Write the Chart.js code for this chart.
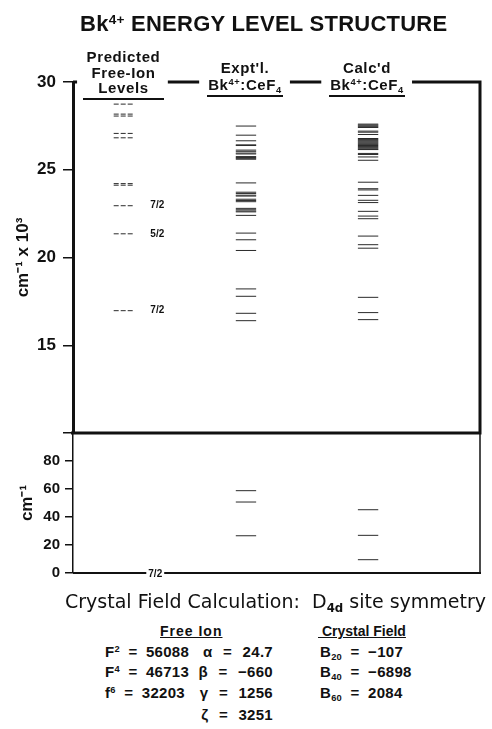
<!DOCTYPE html>
<html>
<head>
<meta charset="utf-8">
<title>Bk4+ Energy Level Structure</title>
<script src="https://cdn.jsdelivr.net/npm/chart.js@4.4.0/dist/chart.umd.min.js"></script>
<style>
    html, body { margin: 0; padding: 0; background: #fff; }
    body {
        width: 492px; height: 729px; position: relative; overflow: hidden;
        font-family: "Liberation Sans", Arial, sans-serif; color: #111;
    }
    canvas { position: absolute; left: 0; }
    #upper { top: 0; }
    #lower { top: 420px; }
    .t { position: absolute; white-space: pre; font-weight: bold; }
    .hd {
        position: absolute; text-align: center; font-size: 15px; font-weight: bold;
        letter-spacing: 0.6px; border-bottom: 2px solid #111; padding-bottom: 2px;
    }
    sup { font-size: 0.62em; vertical-align: 0.5em; line-height: 0; }
    sub { font-size: 0.62em; vertical-align: -0.35em; line-height: 0; }
    .row { font-size: 15px; line-height: 18px; word-spacing: 4px; letter-spacing: 0.3px; }
    .mid { right: 219px; text-align: right; word-spacing: 6px; }
</style>
</head>
<body>
<canvas id="upper" width="492" height="436"></canvas>
<canvas id="lower" width="492" height="165"></canvas>

<div class="t" style="left:80px; top:11px; font-size:22px; line-height:26px; letter-spacing:0.25px;">Bk<sup>4+</sup> ENERGY LEVEL STRUCTURE</div>

<div class="hd" style="left:83px; top:49px; width:81px; line-height:15.5px;">Predicted<br>Free-Ion<br>Levels</div>
<div class="hd" style="left:207px; top:59px; width:76px; line-height:17px;">Expt'l.<br>Bk<sup>4+</sup>:CeF<sub>4</sub></div>
<div class="hd" style="left:329px; top:59px; width:76px; line-height:17px;">Calc'd<br>Bk<sup>4+</sup>:CeF<sub>4</sub></div>

<div class="t" style="left:65px; top:589px; font-family:'DejaVu Sans', sans-serif; font-size:19px; line-height:24px; font-weight:normal;">Crystal Field Calculation:  D<sub style="font-weight:bold">4d</sub> site symmetry</div>
<div class="t" style="left:160px; top:623px; font-size:14px; letter-spacing:1px; text-decoration:underline;">Free Ion</div>
<div class="t" style="left:318px; top:623px; font-size:14px; text-decoration:underline;"> Crystal Field</div>

<div class="t row" style="left:105px; top:643px;">F<sup>2</sup> = 56088</div>
<div class="t row" style="left:105px; top:663px;">F<sup>4</sup> = 46713</div>
<div class="t row" style="left:105px; top:684px;">f<sup>6</sup> = 32203</div>
<div class="t row mid" style="top:643px;">α = 24.7</div>
<div class="t row mid" style="top:663px;">β = −660</div>
<div class="t row mid" style="top:684px;">γ = 1256</div>
<div class="t row mid" style="top:706px;">ζ = 3251</div>
<div class="t row" style="left:320px; top:643px;">B<sub>20</sub> = −107</div>
<div class="t row" style="left:320px; top:663px;">B<sub>40</sub> = −6898</div>
<div class="t row" style="left:320px; top:684px;">B<sub>60</sub> = 2084</div>

<script>
// 能级数据 (上半部分单位: 10^3 cm-1)
const predictedLevels = [28.74, 28.17, 28.06, 27.07, 26.82, 24.21, 24.12, 22.95, 21.35, 16.97];
const exptLevels = [27.49, 26.97, 26.65, 26.42, 26.38, 26.12, 26.05, 25.95, 25.9, 25.75, 25.7, 25.65, 25.6,
    24.25, 23.72, 23.65, 23.55, 23.5, 23.32, 23.25, 23.18, 22.8, 22.72, 22.65, 22.6, 22.4,
    21.39, 21.01, 20.4, 18.21, 17.79, 16.82, 16.4];
const calcLevels = [27.6, 27.55, 27.5, 27.45, 27.41, 27.2, 27.14, 27.01,
    26.78, 26.73, 26.68, 26.63, 26.58, 26.53, 26.48, 26.43, 26.38, 26.33, 26.28, 26.23, 26.18, 26.15,
    25.93, 25.87, 25.73, 25.54, 24.29, 23.92, 23.85, 23.54, 23.26, 23.13, 22.63, 22.36, 22.21,
    21.22, 20.73, 20.53, 17.73, 16.86, 16.46];

// J 标注
const labelledLevels = [22.95, 21.35, 16.97];
const labelledJ = ['7/2', '5/2', '7/2'];

// 基态劈裂 (下半部分单位: cm-1)
const predictedLow = [0];
const exptLow = [58.8, 50.7, 26.6, 0];
const calcLow = [45.2, 26.9, 9.5, 0];
const groundJ = '7/2';

// 刻度
const upperTicks = [15, 20, 25, 30];
const lowerTicks = [0, 20, 40, 60, 80];

(function() {
    Chart.defaults.font.family = '"Liberation Sans", Arial, sans-serif';
    Chart.defaults.color = '#111';

    // 每列在 x 轴 (0..10) 上的起点, 线长 0.5
    const colStart = [1.0, 4.0, 7.0];
    const colWidth = 0.5;
    const levelColor = '#2a2a2a';

    function segments(levels, x0) {
        const pts = [];
        levels.forEach(e => {
            pts.push({x: x0, y: e}, {x: x0 + colWidth, y: e}, {x: x0 + colWidth, y: null});
        });
        return pts;
    }

    function levelSet(levels, col, dash) {
        return {
            data: segments(levels, colStart[col]),
            borderColor: levelColor,
            borderWidth: 1,
            borderDash: dash || [],
            pointRadius: 0,
            spanGaps: false,
            tension: 0
        };
    }

    // 固定轴宽, 去掉刻度标签带来的额外上下留白
    function fixAxis(s) {
        s.width = 73;
        s.paddingTop = 0;
        s.paddingBottom = 0;
    }

    // 上框: 顶边在列标题处断开
    const upperFrame = {
        id: 'upperFrame',
        afterDraw(chart) {
            const {ctx, chartArea: a, scales: {x, y}} = chart;
            ctx.save();
            ctx.strokeStyle = '#111';
            ctx.lineWidth = 3;
            ctx.beginPath();
            let from = a.left;
            colStart.forEach(c => {
                const mid = c + colWidth / 2;
                ctx.moveTo(from, a.top);
                ctx.lineTo(x.getPixelForValue(mid - 1.15), a.top);
                from = x.getPixelForValue(mid + 1.08);
            });
            ctx.moveTo(from, a.top);
            ctx.lineTo(a.right, a.top);
            ctx.lineTo(a.right, a.bottom);
            ctx.lineTo(a.left - 2, a.bottom);
            ctx.stroke();

            // J 标注
            ctx.font = 'bold 10px "Liberation Sans", Arial, sans-serif';
            ctx.fillStyle = '#111';
            ctx.textBaseline = 'middle';
            labelledLevels.forEach((e, i) => {
                ctx.fillText(labelledJ[i], x.getPixelForValue(colStart[0] + colWidth + 0.4), y.getPixelForValue(e));
            });
            ctx.restore();
        }
    };

    const lowerFrame = {
        id: 'lowerFrame',
        afterDraw(chart) {
            const {ctx, chartArea: a, scales: {x, y}} = chart;
            ctx.save();
            ctx.strokeStyle = '#111';
            ctx.lineWidth = 1.5;
            ctx.beginPath();
            ctx.moveTo(a.right, a.top);
            ctx.lineTo(a.right, a.bottom);
            ctx.stroke();
            ctx.lineWidth = 2;
            ctx.beginPath();
            ctx.moveTo(a.left, a.bottom);
            ctx.lineTo(a.right + 1, a.bottom);
            ctx.stroke();

            // 基态 J 标注 (白底)
            ctx.font = 'bold 10px "Liberation Sans", Arial, sans-serif';
            const tx = x.getPixelForValue(colStart[0] + colWidth + 0.35);
            const ty = y.getPixelForValue(predictedLow[0]);
            const w = ctx.measureText(groundJ).width;
            ctx.fillStyle = '#fff';
            ctx.fillRect(tx - 2, ty - 5, w + 4, 10);
            ctx.fillStyle = '#111';
            ctx.textBaseline = 'middle';
            ctx.fillText(groundJ, tx, ty + 1);
            ctx.restore();
        }
    };

    const xScale = {type: 'linear', min: 0, max: 10, display: false};

    new Chart(document.getElementById('upper'), {
        type: 'line',
        data: {
            datasets: [
                levelSet(predictedLevels, 0, [5, 2]),
                levelSet(exptLevels, 1),
                levelSet(calcLevels, 2)
            ]
        },
        options: {
            responsive: false,
            animation: false,
            layout: {padding: {left: 0, right: 12, top: 82, bottom: 3}},
            scales: {
                x: xScale,
                y: {
                    min: 10,
                    max: 30,
                    afterFit: fixAxis,
                    afterBuildTicks: s => { s.ticks = [10].concat(upperTicks).map(v => ({value: v})); },
                    ticks: {
                        padding: 7,
                        font: {size: 17, weight: 'bold'},
                        callback: v => (v === 10 ? '' : v)
                    },
                    grid: {drawOnChartArea: false, tickLength: 10, lineWidth: 1.5, color: '#111'},
                    border: {display: true, width: 3, color: '#111'},
                    title: {
                        display: true,
                        text: 'cm⁻¹ x 10³',
                        font: {size: 17, weight: 'bold'},
                        padding: {top: 13, bottom: 0}
                    }
                }
            },
            plugins: {legend: {display: false}, tooltip: {enabled: false}}
        },
        plugins: [upperFrame]
    });

    new Chart(document.getElementById('lower'), {
        type: 'line',
        data: {
            datasets: [
                levelSet(predictedLow, 0),
                levelSet(exptLow, 1),
                levelSet(calcLow, 2)
            ]
        },
        options: {
            responsive: false,
            animation: false,
            layout: {padding: {left: 0, right: 12, top: 13, bottom: 12}},
            scales: {
                x: xScale,
                y: {
                    min: 0,
                    max: 100,
                    afterFit: fixAxis,
                    afterBuildTicks: s => { s.ticks = lowerTicks.map(v => ({value: v})); },
                    ticks: {padding: 5, font: {size: 15, weight: 'bold'}},
                    grid: {drawOnChartArea: false, tickLength: 8, lineWidth: 1.5, color: '#111'},
                    border: {display: true, width: 1.5, color: '#111'},
                    title: {
                        display: true,
                        text: 'cm⁻¹',
                        font: {size: 17, weight: 'bold'},
                        padding: {top: 17, bottom: 0}
                    }
                }
            },
            plugins: {legend: {display: false}, tooltip: {enabled: false}}
        },
        plugins: [lowerFrame]
    });
})();
</script>
</body>
</html>
